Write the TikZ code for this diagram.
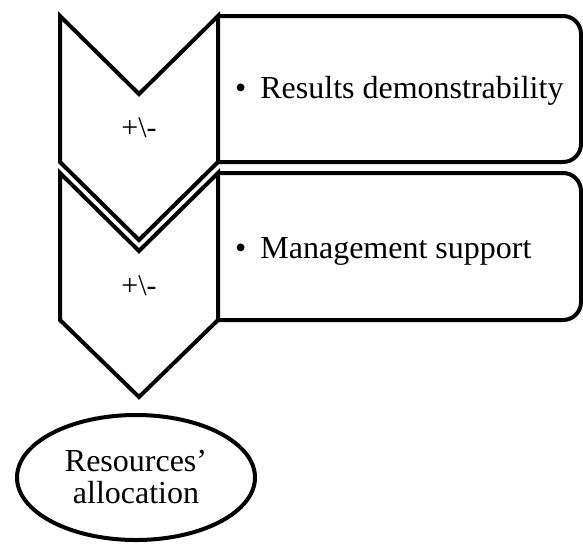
\documentclass[tikz,border=0pt]{standalone}
\usepackage{fontspec}
\setmainfont{Liberation Serif}
\usetikzlibrary{shapes.geometric}
\begin{document}
\begin{tikzpicture}[x=1pt,y=1pt,
  outline/.style={draw=black,line width=4pt,line join=miter},
  itemtext/.style={anchor=base west,inner sep=0pt,font=\fontsize{32}{32}\selectfont},
  signtext/.style={inner sep=0pt,font=\fontsize{30}{30}\selectfont},
  goal/.style={ellipse,draw=black,line width=4pt,minimum width=238pt,
    minimum height=125pt,inner sep=0pt,align=center,
    font=\fontsize{32}{32}\selectfont}]
\useasboundingbox (0,0) rectangle (583,-544);
% text panels, rounded on the right side only
\draw[outline] (218,-16) -- (563,-16) arc[start angle=90,end angle=0,radius=18pt]
  -- (581,-144) arc[start angle=0,end angle=-90,radius=18pt] -- (218,-162);
\draw[outline] (218,-173) -- (563,-173) arc[start angle=90,end angle=0,radius=18pt]
  -- (581,-302) arc[start angle=0,end angle=-90,radius=18pt] -- (218,-320);
% chevrons
\draw[outline] (60,-16) -- (139,-94) -- (218,-16) -- (218,-162) -- (139,-240)
  -- (60,-162) -- cycle;
\draw[outline] (60,-173) -- (139,-251) -- (218,-173) -- (218,-320) -- (139,-397)
  -- (60,-320) -- cycle;
% labels
\node[signtext] (sign1) at (139,-128) {+\textbackslash-};
\node[signtext] (sign2) at (139,-286) {+\textbackslash-};
\node[itemtext] (item1) at (235,-98) {•\hspace{14pt}Results demonstrability};
\node[itemtext] (item2) at (235,-258) {•\hspace{14pt}Management support};
% outcome
\node[goal] (goal) at (136,-477.5) {Resources’\\allocation};
\end{tikzpicture}
\end{document}
